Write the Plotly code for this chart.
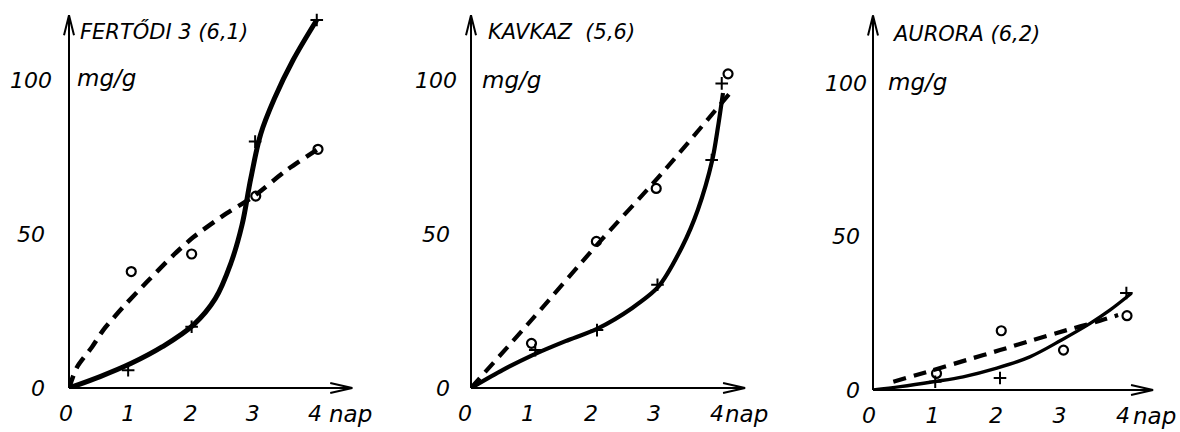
import plotly.graph_objects as go

W, H = 1180, 432

# ---------------- data ----------------
x_tick_vals = [0, 1, 2, 3, 4]
x_tick_text = ["0", "1", "2", "3", "4"]
y_tick_vals = [0, 50, 100]
y_tick_text = ["0\u00a0", "50\u00a0", "100"]
titles = ["FERTŐDI 3 (6,1)", "KAVKAZ  (5,6)", "AURORA (6,2)"]
unit_label = "mg/g"
x_unit = "nap"

# Panel 1: FERTŐDI 3
p1_circle_x = [1.0, 1.97, 3.0, 4.0]
p1_circle_y = [37.8, 43.5, 62.3, 77.5]
p1_cross_x = [0.95, 1.97, 2.99, 3.98]
p1_cross_y = [5.8, 19.9, 80.0, 119.5]
p1_solid_x = [0, 0.5, 1.0, 1.5, 2.0, 2.35, 2.6, 2.78, 2.92, 3.08, 3.3, 3.6, 3.98]
p1_solid_y = [0, 3.7, 8.0, 13.4, 20.5, 29.0, 40.5, 53.0, 68.0, 82.5, 94.0, 106.5, 119.5]
p1_dash_x = [0, 0.13, 0.37, 0.55, 0.87, 1.25, 1.67, 2.0, 2.53, 2.96, 3.5, 3.98]
p1_dash_y = [0, 6.8, 13.3, 18.8, 26.3, 34.4, 43.0, 49.0, 56.7, 62.1, 70.8, 77.3]

# Panel 2: KAVKAZ
p2_circle_x = [0.96, 1.99, 2.94, 4.08]
p2_circle_y = [14.5, 47.6, 64.8, 102.0]
p2_cross_x = [1.02, 2.0, 2.96, 3.82, 3.98]
p2_cross_y = [12.3, 18.8, 33.5, 74.0, 98.9]
p2_solid_x = [0, 0.5, 0.97, 1.5, 2.0, 2.56, 2.97, 3.35, 3.6, 3.83, 3.92, 4.0]
p2_solid_y = [0, 5.8, 10.6, 15.2, 19.2, 26.0, 32.8, 45.8, 57.8, 74.0, 84.7, 95.8]
p2_dash_x = [0, 1.0, 2.0, 3.0, 4.12]
p2_dash_y = [0, 23.0, 46.5, 69.0, 96.0]

# Panel 3: AURORA
p3_circle_x = [1.0, 2.02, 3.0, 4.0]
p3_circle_y = [5.4, 19.3, 13.0, 24.2]
p3_cross_x = [0.98, 2.0, 3.99]
p3_cross_y = [2.7, 3.9, 31.6]
p3_solid_x = [0, 0.43, 0.95, 1.42, 1.95, 2.47, 2.97, 3.42, 3.73, 4.07]
p3_solid_y = [0, 1.1, 2.7, 4.3, 7.1, 10.8, 16.3, 21.7, 26.0, 31.5]
p3_dash_x = [0.32, 0.95, 1.48, 2.0, 2.52, 3.05, 3.52, 3.86]
p3_dash_y = [2.7, 6.5, 9.8, 13.0, 16.3, 19.5, 22.2, 24.4]

panels = [
    dict(cx=p1_circle_x, cy=p1_circle_y, kx=p1_cross_x, ky=p1_cross_y,
         sx=p1_solid_x, sy=p1_solid_y, dx=p1_dash_x, dy=p1_dash_y),
    dict(cx=p2_circle_x, cy=p2_circle_y, kx=p2_cross_x, ky=p2_cross_y,
         sx=p2_solid_x, sy=p2_solid_y, dx=p2_dash_x, dy=p2_dash_y),
    dict(cx=p3_circle_x, cy=p3_circle_y, kx=p3_cross_x, ky=p3_cross_y,
         sx=p3_solid_x, sy=p3_solid_y, dx=p3_dash_x, dy=p3_dash_y),
]

# ---------------- geometry / style ----------------
geom = [
    dict(x0=69, y0=388, ppd=62.25, ppu=3.08, xtip=4.55, ytip=121.0, ystand=16, xshift=-3,
         title_xy=(78, 31), unit_xy=(75, 78), nap_xy=(350, 414)),
    dict(x0=471, y0=388, ppd=63.0, ppu=3.08, xtip=4.35, ytip=121.0, ystand=13, xshift=-6,
         title_xy=(486, 32), unit_xy=(480, 80), nap_xy=(746, 414)),
    dict(x0=873, y0=390, ppd=63.5, ppu=3.07, xtip=4.41, ytip=122.0, ystand=5, xshift=-4,
         title_xy=(890, 34), unit_xy=(886, 82), nap_xy=(1154, 416)),
]
solid_w = [5.0, 4.2, 3.4]
solid_smooth = [1.0, 0.8, 1.0]
dash_w = [4.5, 4.2, 4.2]
FONT = "DejaVu Sans"
INK = "#000000"

fig = go.Figure()
shapes = []
annotations = []


def px(x):
    return x / W


def py(y):
    return 1 - y / H


for i, (p, g) in enumerate(zip(panels, geom)):
    n = "" if i == 0 else str(i + 1)
    xa, ya = "x" + n, "y" + n
    fig.add_trace(go.Scatter(x=p["dx"], y=p["dy"], mode="lines", xaxis=xa, yaxis=ya,
                             line=dict(color=INK, width=dash_w[i], dash="13px,8px", shape="spline", smoothing=0.7),
                             showlegend=False, hoverinfo="skip"))
    fig.add_trace(go.Scatter(x=p["sx"], y=p["sy"], mode="lines", xaxis=xa, yaxis=ya,
                             line=dict(color=INK, width=solid_w[i], shape="spline", smoothing=solid_smooth[i]),
                             showlegend=False, hoverinfo="skip"))
    fig.add_trace(go.Scatter(x=p["cx"], y=p["cy"], mode="markers", xaxis=xa, yaxis=ya,
                             marker=dict(symbol="circle-open", size=9, color=INK, line=dict(width=2.2, color=INK)),
                             cliponaxis=False, showlegend=False))
    fig.add_trace(go.Scatter(x=p["kx"], y=p["ky"], mode="markers", xaxis=xa, yaxis=ya,
                             marker=dict(symbol="cross-thin-open", size=9, color=INK, line=dict(width=2, color=INK)),
                             cliponaxis=False, showlegend=False))

    x_end_px = g["x0"] + g["xtip"] * g["ppd"]
    y_top_px = g["y0"] - g["ytip"] * g["ppu"]
    fig.layout["xaxis" + n] = dict(
        domain=[px(g["x0"]), px(x_end_px)], range=[0, g["xtip"]], anchor=ya, automargin=False,
        showgrid=False, zeroline=False, showline=False, ticks="",
        tickvals=x_tick_vals, ticktext=x_tick_text, ticklabelstandoff=10, ticklabelshift=g["xshift"],
        tickfont=dict(family=FONT, size=22, color=INK, style="italic"), fixedrange=True)
    fig.layout["yaxis" + n] = dict(
        domain=[py(g["y0"]), py(y_top_px)], range=[0, g["ytip"]], anchor=xa, automargin=False,
        showgrid=False, zeroline=False, showline=False, ticks="",
        tickvals=y_tick_vals, ticktext=y_tick_text, ticklabelstandoff=g["ystand"],
        tickfont=dict(family=FONT, size=22, color=INK, style="italic"), fixedrange=True)

    ax_line = dict(color=INK, width=2)
    shapes.append(dict(type="line", xref="paper", yref="paper",
                       x0=px(g["x0"]), y0=py(g["y0"]), x1=px(x_end_px), y1=py(g["y0"]), line=ax_line))
    shapes.append(dict(type="line", xref="paper", yref="paper",
                       x0=px(g["x0"]), y0=py(g["y0"]), x1=px(g["x0"]), y1=py(y_top_px), line=ax_line))
    shapes.append(dict(type="path", xref="paper", yref="paper", line=ax_line,
                       path=f"M {px(x_end_px-22)},{py(g['y0']-5)} L {px(x_end_px)},{py(g['y0'])} L {px(x_end_px-22)},{py(g['y0']+5)}"))
    shapes.append(dict(type="path", xref="paper", yref="paper", line=ax_line,
                       path=f"M {px(g['x0']-5)},{py(y_top_px+20)} L {px(g['x0'])},{py(y_top_px)} L {px(g['x0']+5)},{py(y_top_px+20)}"))

    tx, ty = g["title_xy"]
    annotations.append(dict(text=titles[i], x=px(tx), y=py(ty), xref="paper", yref="paper",
                            xanchor="left", yanchor="middle", showarrow=False,
                            font=dict(family=FONT, size=21, color=INK, style="italic")))
    ux, uy = g["unit_xy"]
    annotations.append(dict(text=unit_label, x=px(ux), y=py(uy), xref="paper", yref="paper",
                            xanchor="left", yanchor="middle", showarrow=False,
                            font=dict(family=FONT, size=23, color=INK, style="italic")))
    nx, ny = g["nap_xy"]
    annotations.append(dict(text=x_unit, x=px(nx), y=py(ny), xref="paper", yref="paper",
                            xanchor="center", yanchor="middle", showarrow=False,
                            font=dict(family=FONT, size=23, color=INK, style="italic")))

fig.update_layout(
    width=W, height=H, margin=dict(l=0, r=0, t=0, b=0, autoexpand=False),
    paper_bgcolor="white", plot_bgcolor="rgba(0,0,0,0)",
    shapes=shapes, annotations=annotations, showlegend=False,
)

fig.write_html("out.html", config={"displayModeBar": False})
